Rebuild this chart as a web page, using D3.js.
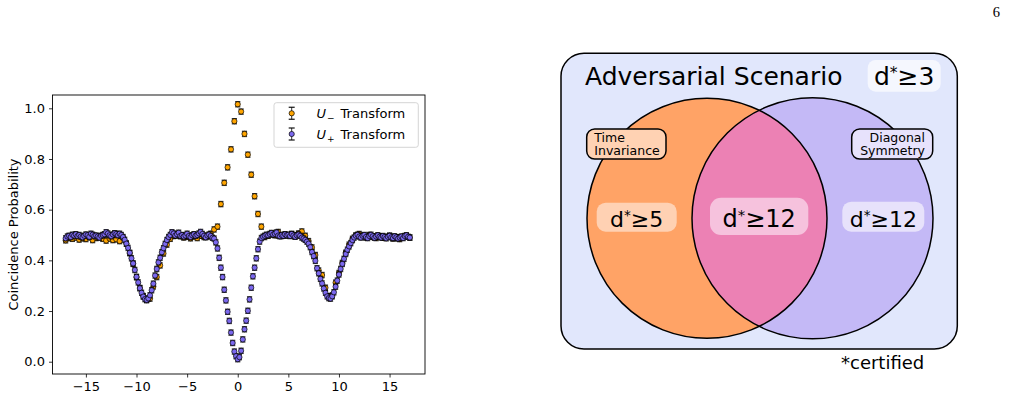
<!DOCTYPE html>
<html>
<head>
<meta charset="utf-8">
<script src="https://cdn.jsdelivr.net/npm/d3@7"></script>
<style>
  body { margin: 0; background: #fff; }
  svg { display: block; font-family: "DejaVu Sans", sans-serif; }
</style>
</head>
<body>
<div id="fig"></div>
<script>
// ---- data ----
const DELAY_START = -17;       // first delay value on both scans
const uPlusStep = 1 / 6;       // U+ scan is sampled twice as finely
const uMinusStep = 1 / 3;

// U+ transform, one row per unit of delay (starting at the value in the comment)
const uPlusProb = [
  /* -17 */ 0.487, 0.494, 0.497, 0.492, 0.501, 0.498,
  /* -16 */ 0.503, 0.496, 0.500, 0.494, 0.491, 0.497,
  /* -15 */ 0.502, 0.499, 0.493, 0.505, 0.501, 0.496,
  /* -14 */ 0.498, 0.494, 0.490, 0.497, 0.500, 0.503,
  /* -13 */ 0.511, 0.506, 0.499, 0.495, 0.502, 0.507,
  /* -12 */ 0.504, 0.499, 0.505, 0.500, 0.492, 0.481,
  /* -11 */ 0.466, 0.449, 0.430, 0.408, 0.388, 0.362,
  /* -10 */ 0.335, 0.313, 0.290, 0.272, 0.257, 0.247,
  /*  -9 */ 0.244, 0.250, 0.262, 0.282, 0.308, 0.340,
  /*  -8 */ 0.366, 0.392, 0.410, 0.432, 0.448, 0.465,
  /*  -7 */ 0.480, 0.492, 0.500, 0.511, 0.506, 0.498,
  /*  -6 */ 0.503, 0.509, 0.497, 0.500, 0.494, 0.498,
  /*  -5 */ 0.505, 0.496, 0.492, 0.499, 0.503, 0.497,
  /*  -4 */ 0.500, 0.506, 0.512, 0.504, 0.497, 0.491,
  /*  -3 */ 0.498, 0.502, 0.496, 0.489, 0.486, 0.471,
  /*  -2 */ 0.447, 0.410, 0.371, 0.334, 0.284, 0.242,
  /*  -1 */ 0.197, 0.161, 0.115, 0.074, 0.040, 0.022,
  /*   0 */ 0.010, 0.018, 0.043, 0.088, 0.128, 0.162,
  /*   1 */ 0.201, 0.246, 0.292, 0.337, 0.371, 0.408,
  /*   2 */ 0.444, 0.474, 0.488, 0.493, 0.497, 0.501,
  /*   3 */ 0.499, 0.504, 0.508, 0.502, 0.505, 0.510,
  /*   4 */ 0.498, 0.495, 0.500, 0.497, 0.503, 0.499,
  /*   5 */ 0.501, 0.496, 0.504, 0.498, 0.493, 0.499,
  /*   6 */ 0.502, 0.497, 0.490, 0.486, 0.481, 0.474,
  /*   7 */ 0.466, 0.452, 0.433, 0.417, 0.398, 0.369,
  /*   8 */ 0.349, 0.327, 0.309, 0.289, 0.272, 0.258,
  /*   9 */ 0.251, 0.249, 0.258, 0.274, 0.296, 0.320,
  /*  10 */ 0.344, 0.366, 0.386, 0.406, 0.425, 0.442,
  /*  11 */ 0.455, 0.468, 0.480, 0.490, 0.497, 0.501,
  /*  12 */ 0.494, 0.490, 0.497, 0.500, 0.492, 0.488,
  /*  13 */ 0.496, 0.501, 0.495, 0.489, 0.494, 0.499,
  /*  14 */ 0.493, 0.490, 0.496, 0.492, 0.487, 0.493,
  /*  15 */ 0.497, 0.491, 0.488, 0.495, 0.491, 0.486,
  /*  16 */ 0.490, 0.494, 0.488, 0.496, 0.499, 0.493,
  /*  17 */ 0.490
];

// U- transform
const uMinusProb = [
  /* -17 */ 0.479, 0.488, 0.485,
  /* -16 */ 0.490, 0.482, 0.487,
  /* -15 */ 0.484, 0.491, 0.480,
  /* -14 */ 0.488, 0.492, 0.485,
  /* -13 */ 0.478, 0.486, 0.480,
  /* -12 */ 0.483, 0.476, 0.489,
  /* -11 */ 0.466, 0.428, 0.386,
  /* -10 */ 0.333, 0.291, 0.259,
  /*  -9 */ 0.243, 0.249, 0.297,
  /*  -8 */ 0.334, 0.380, 0.427,
  /*  -7 */ 0.462, 0.485, 0.496,
  /*  -6 */ 0.499, 0.495, 0.490,
  /*  -5 */ 0.493, 0.487, 0.494,
  /*  -4 */ 0.488, 0.497, 0.492,
  /*  -3 */ 0.494, 0.505, 0.522,
  /*  -2 */ 0.533, 0.622, 0.706,
  /*  -1 */ 0.767, 0.838, 0.949,
  /*   0 */ 1.016, 0.987, 0.899,
  /*   1 */ 0.817, 0.738, 0.653,
  /*   2 */ 0.583, 0.533, 0.492,
  /*   3 */ 0.497, 0.503, 0.499,
  /*   4 */ 0.512, 0.496, 0.500,
  /*   5 */ 0.498, 0.504, 0.495,
  /*   6 */ 0.506, 0.514, 0.497,
  /*   7 */ 0.476, 0.451, 0.421,
  /*   8 */ 0.360, 0.342, 0.292,
  /*   9 */ 0.258, 0.262, 0.312,
  /*  10 */ 0.350, 0.390, 0.430,
  /*  11 */ 0.462, 0.485, 0.498,
  /*  12 */ 0.504, 0.495, 0.490,
  /*  13 */ 0.500, 0.493, 0.488,
  /*  14 */ 0.495, 0.489, 0.492,
  /*  15 */ 0.497, 0.486, 0.490,
  /*  16 */ 0.484, 0.492, 0.495,
  /*  17 */ 0.490
];

const probErr = 0.01;
const xTicks = [-15, -10, -5, 0, 5, 10, 15];
const yTicks = [0.0, 0.2, 0.4, 0.6, 0.8, 1.0];
const seriesSigns = ["−", "+"];
const seriesColors = ["#ffa500", "#7b68ee"];

// venn diagram text
const scenarioName = "Adversarial Scenario";
const scenarioBound = 3;
const vennSets = [["Time", "Invariance"], ["Diagonal", "Symmetry"]];
const regionBounds = [5, 12, 12];   // left only, overlap, right only

// ---- figure ----
const W = 1010, H = 397;
const svg = d3.select("#fig").append("svg").attr("width", W).attr("height", H);
svg.append("rect").attr("width", W).attr("height", H).attr("fill", "#fff");

// page number
svg.append("text")
  .attr("x", 1000).attr("y", 17)
  .attr("text-anchor", "end")
  .attr("fill", "#000")
  .style("font-family", "'Liberation Serif', serif")
  .style("font-size", "14.5px")
  .text("6");

// ---- left: coincidence scan ----
const box = { left: 52.5, right: 425, top: 95, bottom: 374 };
const x = d3.scaleLinear().domain([-18.3, 18.5]).range([box.left, box.right]);
const y = d3.scaleLinear().domain([-0.0485, 1.0525]).range([box.bottom, box.top]);

const fmtX = d => d < 0 ? "−" + Math.abs(d) : String(d);

const xAxis = svg.append("g")
  .attr("transform", `translate(0,${box.bottom})`)
  .call(d3.axisBottom(x).tickValues(xTicks).tickSize(3.5).tickPadding(4).tickFormat(fmtX));
const yAxis = svg.append("g")
  .attr("transform", `translate(${box.left},0)`)
  .call(d3.axisLeft(y).tickValues(yTicks).tickSize(3.5).tickPadding(4).tickFormat(d3.format(".1f")));

[xAxis, yAxis].forEach(a => {
  a.select(".domain").remove();
  a.selectAll("text").style("font-size", "13px").style("font-family", "'DejaVu Sans', sans-serif").attr("fill", "#000");
  a.selectAll("line").attr("stroke", "#000").attr("stroke-width", 0.8);
});

svg.append("text")
  .attr("transform", `translate(13,${(box.top + box.bottom) / 2}) rotate(-90)`)
  .attr("text-anchor", "middle")
  .attr("dy", "0.35em")
  .style("font-size", "13px")
  .text("Coincidence Probability");

const toPoints = (vals, step) => vals.map((p, i) => ({ t: DELAY_START + i * step, p }));
const series = [toPoints(uMinusProb, uMinusStep), toPoints(uPlusProb, uPlusStep)];

const CAP = 2.6, R = 2.6;
series.forEach((pts, k) => {
  const g = svg.append("g");
  // error bars first, markers on top
  const eb = g.append("g").attr("stroke", "#000").attr("stroke-opacity", 0.8);
  pts.forEach(d => {
    const cx = x(d.t), y0 = y(d.p - probErr), y1 = y(d.p + probErr);
    eb.append("line").attr("x1", cx).attr("x2", cx).attr("y1", y0).attr("y2", y1).attr("stroke-width", 1);
    eb.append("line").attr("x1", cx - CAP).attr("x2", cx + CAP).attr("y1", y0).attr("y2", y0).attr("stroke-width", 1.4);
    eb.append("line").attr("x1", cx - CAP).attr("x2", cx + CAP).attr("y1", y1).attr("y2", y1).attr("stroke-width", 1.4);
  });
  g.selectAll("circle").data(pts).join("circle")
    .attr("cx", d => x(d.t))
    .attr("cy", d => y(d.p))
    .attr("r", R)
    .attr("fill", seriesColors[k])
    .attr("stroke", "#000")
    .attr("stroke-width", 0.7);
});

// axes frame
svg.append("rect")
  .attr("x", box.left).attr("y", box.top)
  .attr("width", box.right - box.left).attr("height", box.bottom - box.top)
  .attr("fill", "none").attr("stroke", "#000").attr("stroke-width", 0.9);

// legend
const leg = svg.append("g");
leg.append("rect")
  .attr("x", 274).attr("y", 102.7).attr("width", 144.3).attr("height", 44.6)
  .attr("rx", 2.5)
  .attr("fill", "#fff").attr("fill-opacity", 0.8)
  .attr("stroke", "#d0d0d0").attr("stroke-width", 0.9);

seriesSigns.forEach((s, k) => {
  const cy = 113.3 + k * 20.7;
  const lx = 291.7;
  leg.append("line").attr("x1", lx).attr("x2", lx).attr("y1", cy - 6).attr("y2", cy + 6).attr("stroke", "#000").attr("stroke-opacity", 0.8);
  [cy - 6, cy + 6].forEach(yy => leg.append("line")
    .attr("x1", lx - 3).attr("x2", lx + 3).attr("y1", yy).attr("y2", yy)
    .attr("stroke", "#000").attr("stroke-opacity", 0.8).attr("stroke-width", 1.4));
  leg.append("circle").attr("cx", lx).attr("cy", cy).attr("r", R)
    .attr("fill", seriesColors[k]).attr("stroke", "#000").attr("stroke-width", 0.7);
  const t = leg.append("text").attr("x", 316.5).attr("y", cy + 4.7).style("font-size", "13px");
  t.append("tspan").style("font-style", "italic").text("U");
  t.append("tspan").attr("dy", 3).attr("dx", 1).style("font-size", "9px").text(s);
  t.append("tspan").attr("dy", -3).attr("dx", 6).text("Transform");
});

// ---- right: venn diagram ----
const venn = svg.append("g");
venn.append("rect")
  .attr("x", 561).attr("y", 53.3).attr("width", 396.3).attr("height", 295.7)
  .attr("rx", 23)
  .attr("fill", "#e1e7fc").attr("stroke", "#000").attr("stroke-width", 1.5);

venn.append("text")
  .attr("x", 585).attr("y", 85)
  .style("font-size", "25px")
  .text(scenarioName);

function dStar(g, px, py, bound, size, anchor) {
  const t = g.append("text")
    .attr("x", px).attr("y", py)
    .attr("text-anchor", anchor)
    .style("font-size", size + "px");
  t.append("tspan").text("d");
  t.append("tspan").attr("dy", -0.29 * size).style("font-size", (0.62 * size) + "px").text("*");
  t.append("tspan").attr("dy", 0.29 * size).text("≥" + bound);
}

function pill(g, bx, by, bw, bh, r, fill, stroke) {
  g.append("rect")
    .attr("x", bx).attr("y", by).attr("width", bw).attr("height", bh).attr("rx", r)
    .attr("fill", fill)
    .attr("stroke", stroke ? "#000" : "none")
    .attr("stroke-width", 1.5);
}

pill(venn, 867.7, 60, 73, 31.7, 8, "#f5f7fe", false);
dStar(venn, 904.2, 85, scenarioBound, 25, "middle");

const circles = [
  { cx: 707, cy: 218.3, r: 120, fill: "#ffa366" },
  { cx: 812.5, cy: 218.3, r: 120.5, fill: "#c4b9f6" }
];

const defs = svg.append("defs");
defs.append("clipPath").attr("id", "rightSet")
  .append("circle").attr("cx", circles[1].cx).attr("cy", circles[1].cy).attr("r", circles[1].r);

venn.selectAll("circle.fill").data(circles).join("circle")
  .attr("class", "fill")
  .attr("cx", d => d.cx).attr("cy", d => d.cy).attr("r", d => d.r)
  .attr("fill", d => d.fill);

venn.append("circle")
  .attr("cx", circles[0].cx).attr("cy", circles[0].cy).attr("r", circles[0].r)
  .attr("clip-path", "url(#rightSet)")
  .attr("fill", "#ec81b4");

venn.selectAll("circle.edge").data(circles).join("circle")
  .attr("class", "edge")
  .attr("cx", d => d.cx).attr("cy", d => d.cy).attr("r", d => d.r)
  .attr("fill", "none").attr("stroke", "#000").attr("stroke-width", 1.5);

// set name tags
pill(venn, 586.7, 129, 79.3, 30, 8, "#ffd2b3", true);
vennSets[0].forEach((line, i) => venn.append("text")
  .attr("x", 594.3).attr("y", 142 + i * 13.2)
  .style("font-size", "12.5px").text(line));

pill(venn, 851.7, 129, 81, 30, 8, "#e7e2fc", true);
vennSets[1].forEach((line, i) => venn.append("text")
  .attr("x", 925).attr("y", 142 + i * 13.2)
  .attr("text-anchor", "end")
  .style("font-size", "12.5px").text(line));

// region bounds
pill(venn, 596.7, 202.7, 80, 29, 9, "#ffd1b3", false);
dStar(venn, 636.7, 226.5, regionBounds[0], 22, "middle");

pill(venn, 710, 197.7, 98.3, 37.3, 11, "#f6c2dd", false);
dStar(venn, 759.2, 227, regionBounds[1], 24, "middle");

pill(venn, 842.3, 201.7, 82, 30, 9, "#e7e2fb", false);
dStar(venn, 883.3, 226.5, regionBounds[2], 22, "middle");

svg.append("text")
  .attr("x", 841).attr("y", 369)
  .style("font-size", "18px")
  .text("*certified");
</script>
</body>
</html>
